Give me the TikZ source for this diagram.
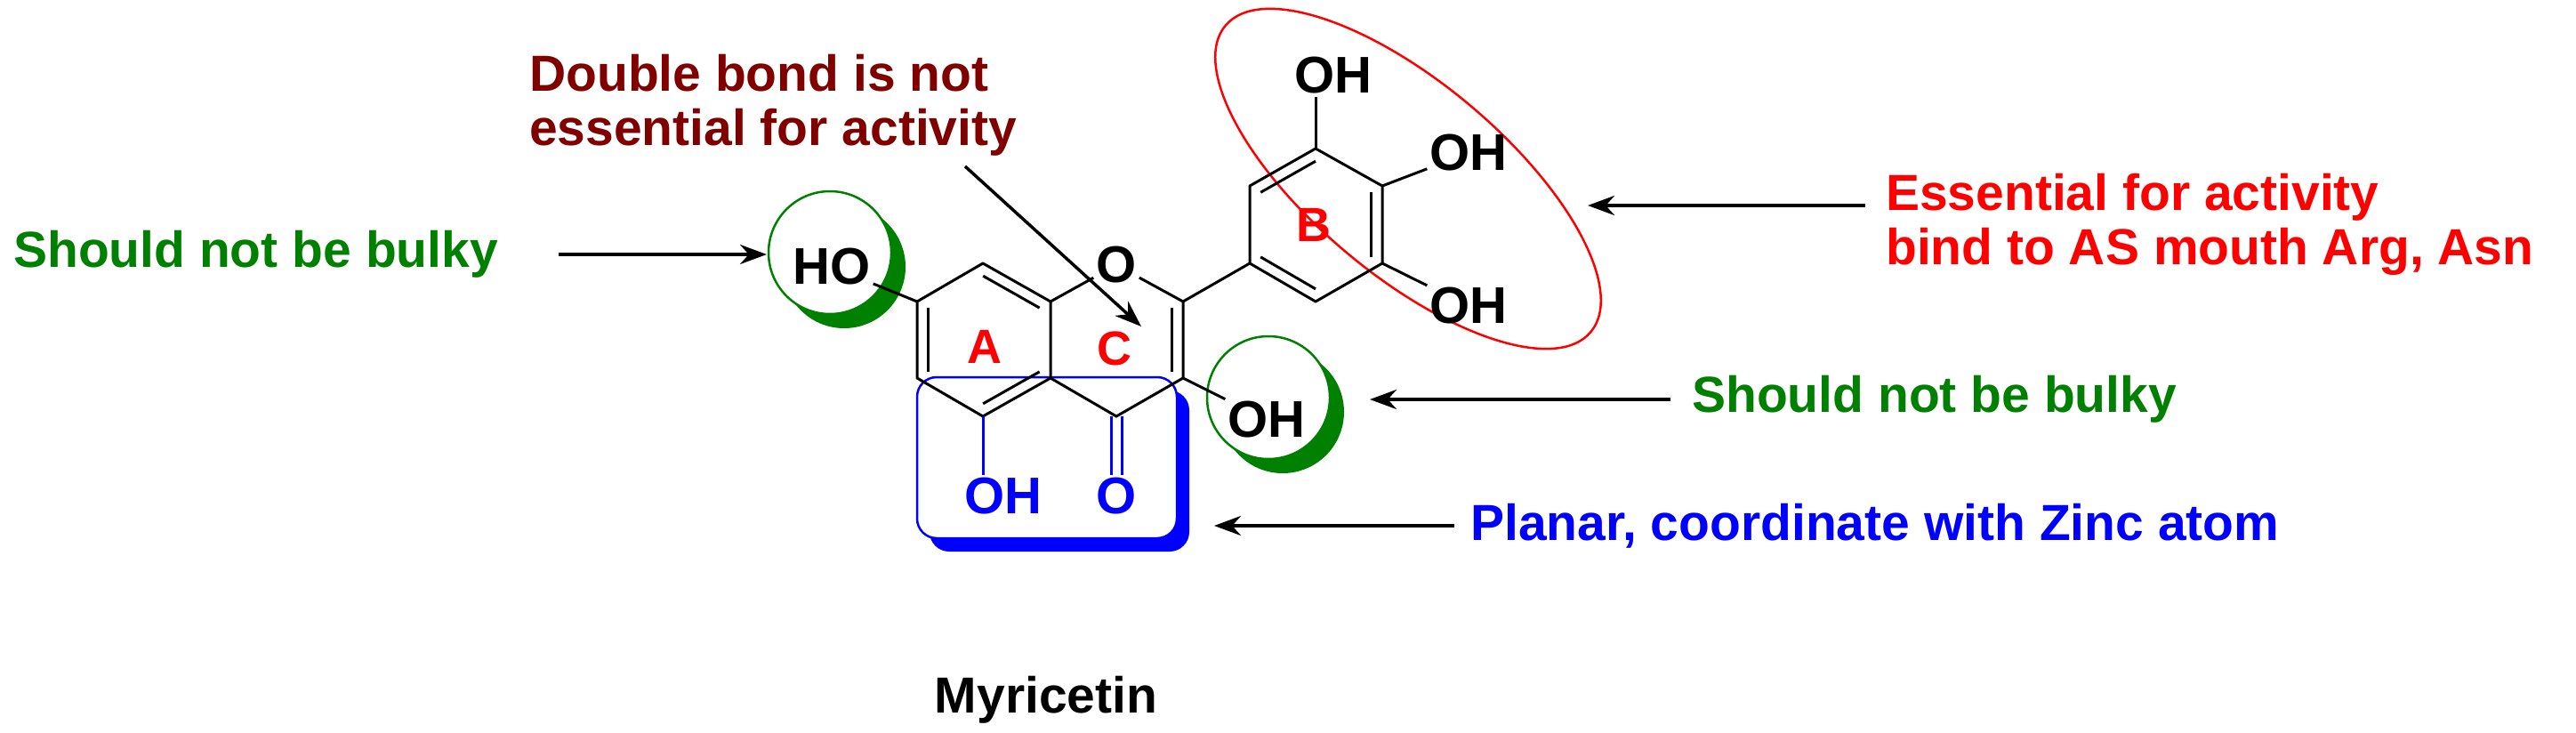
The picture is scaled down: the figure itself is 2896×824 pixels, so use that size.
\documentclass[tikz,border=0pt]{standalone}
\usepackage{fontspec}
\setmainfont{Liberation Sans}
\usetikzlibrary{arrows.meta,calc}
\definecolor{dred}{RGB}{128,0,0}
\definecolor{dgreen}{RGB}{0,128,0}
\definecolor{mblue}{RGB}{0,0,255}
\begin{document}
\begin{tikzpicture}[x=1pt,y=-1pt,
  bond/.style={line width=3pt},
  atom/.style={inner sep=3pt,font=\fontsize{58}{60}\selectfont\bfseries},
  lab/.style={inner sep=0pt,font=\fontsize{57}{61}\selectfont\bfseries,align=left},
  arr/.style={line width=3.5pt,-{Stealth[length=30pt,width=22pt]}},
  ringlab/.style={inner sep=0pt,text=red,font=\fontsize{54}{56}\selectfont\bfseries}]
\useasboundingbox (0,0) rectangle (2896,824);
% highlight shapes
\fill[mblue,rounded corners=22pt] (1045,439) rectangle (1337,620);
\draw[mblue,line width=2.5pt,fill=white,rounded corners=22pt] (1031,424) rectangle (1323,605);
\fill[dgreen] (949,300) circle (69pt);
\node[circle,draw=dgreen,fill=white,line width=2.5pt,minimum size=138pt,inner sep=0pt] (g1) at (933,284) {};
\fill[dgreen] (1442,463) circle (69pt);
\node[circle,draw=dgreen,fill=white,line width=2.5pt,minimum size=138pt,inner sep=0pt] (g2) at (1426,447) {};
\coordinate (ec) at (1583,201);
\draw[red,line width=2.5pt,rotate around={-40:(ec)}] (ec) ellipse [x radius=268pt,y radius=108pt];
% ring coordinates
\coordinate (a1) at (1105,296); \coordinate (a2) at (1031,339); \coordinate (a3) at (1031,425);
\coordinate (a4) at (1105,468); \coordinate (a5) at (1181,425); \coordinate (a6) at (1181,339);
\coordinate (ca) at (1106,382);
\coordinate (c2) at (1330,339); \coordinate (c3) at (1330,425); \coordinate (c4) at (1255,468);
\coordinate (cc) at (1256,382);
\coordinate (b1) at (1405,296); \coordinate (b2) at (1405,209); \coordinate (b3) at (1479,167);
\coordinate (b4) at (1554,209); \coordinate (b5) at (1554,296); \coordinate (b6) at (1479,339);
\coordinate (cb) at (1479,253);
% atom labels
\node[atom] (o1) at (1255,298) {O};
\node[atom] (ho) at (935,300) {HO};
\node[atom] (oh3) at (1424,472) {OH};
\node[atom,text=mblue] (oh5) at (1128,558) {OH};
\node[atom,text=mblue] (o4) at (1255,558) {O};
\node[atom] (ohb1) at (1499,85) {OH};
\node[atom] (ohb2) at (1651,172) {OH};
\node[atom] (ohb3) at (1651,344) {OH};
\node[ringlab] (la) at (1107,390) {A};
\node[ringlab] (lc) at (1253,392) {C};
\node[ringlab] (lb) at (1477,253) {B};
% bonds
\draw[bond,line join=round] (a1)--(a2)--(a3)--(a4)--(a5)--(a6)--cycle;
\draw[bond] (a6)--(o1)--(c2)--(c3)--(c4)--(a5);
\draw[bond,line join=round] (b1)--(b2)--(b3)--(b4)--(b5)--(b6)--cycle;
\draw[bond] (c2)--(b1);
\draw[bond] (a2)--(ho);
\draw[bond] (c3)--(oh3);
\draw[bond] (b3)--(b3 |- ohb1.south);
\draw[bond] (b4)--(ohb2);
\draw[bond] (b5)--(ohb3);
\draw[bond,mblue] (a4)--(a4 |- oh5.north);
\draw[bond,mblue] ($(c4)+(-6,0)$)--($(o4.north)+(-6,0)$);
\draw[bond,mblue] ($(c4)+(6,0)$)--($(o4.north)+(6,0)$);
% inner double bonds
\def\t{0.165}
\foreach \p/\q/\c in {a2/a3/ca,a1/a6/ca,a4/a5/ca,c2/c3/cc,b2/b3/cb,b4/b5/cb,b1/b6/cb}{
  \draw[bond] ($(\p)!\t!(\c)$)--($(\q)!\t!(\c)$);
}
% labels
\node[lab,text=dgreen,anchor=west] (t1) at (15,286) {Should not be bulky};
\node[lab,text=dred,anchor=west] (t2) at (595,118) {Double bond is not\\essential for activity};
\node[lab,text=red,anchor=west] (t3) at (2120,252) {Essential for activity\\bind to AS mouth Arg, Asn};
\node[lab,text=dgreen,anchor=west] (t4) at (1902,449) {Should not be bulky};
\node[lab,text=mblue,anchor=west] (t5) at (1653,591) {Planar, coordinate with Zinc atom};
\node[lab,anchor=center] (t6) at (1176,787) {Myricetin};
% arrows
\coordinate (d1) at (1085,187); \coordinate (d2) at (1283,367);
\draw[arr] (d1)--(d2);
\coordinate (e1) at (2097,231); \coordinate (e2) at (1785,231);
\draw[arr] (e1)--(e2);
\coordinate (s1) at (628,286); \coordinate (s2) at (862,286);
\draw[arr] (s1)--(s2);
\coordinate (r1) at (1878,449); \coordinate (r2) at (1540,449);
\draw[arr] (r1)--(r2);
\coordinate (p1) at (1635,591); \coordinate (p2) at (1365,591);
\draw[arr] (p1)--(p2);
\end{tikzpicture}
\end{document}
